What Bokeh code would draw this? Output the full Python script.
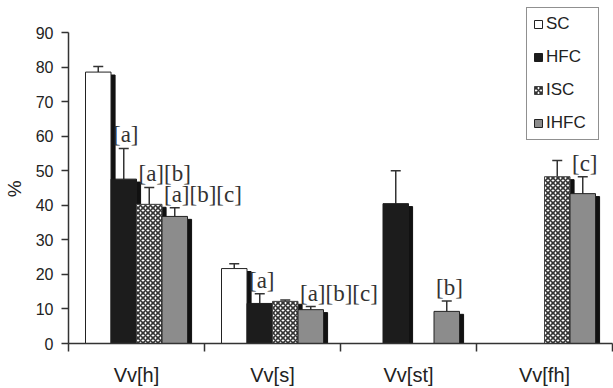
from bokeh.plotting import figure
from bokeh.models import (Range1d, FixedTicker, Whisker, TeeHead, ColumnDataSource,
                          Legend, LegendItem)
from bokeh.core.properties import value
from bokeh.embed import file_html
from bokeh.resources import INLINE

# ---- data -------------------------------------------------------------
categories = ["Vv[h]", "Vv[s]", "Vv[st]", "Vv[fh]"]
series = ["SC", "HFC", "ISC", "IHFC"]

sc_mean = [78.6, 21.7, 0, 0]
sc_err = [1.6, 1.4, 0, 0]
hfc_mean = [47.6, 11.6, 40.5, 0]
hfc_err = [8.9, 2.8, 9.5, 0]
isc_mean = [40.3, 12.2, 0, 48.3]
isc_err = [4.9, 0.4, 0, 4.7]
ihfc_mean = [36.8, 9.8, 9.3, 43.4]
ihfc_err = [2.5, 0.9, 3.0, 4.9]

sc_marks = ["", "", "", ""]
hfc_marks = ["[a]", "[a]", "", ""]
isc_marks = ["[a][b]", "", "", ""]
ihfc_marks = ["[a][b][c]", "[a][b][c]", "[b]", "[c]"]

y_ticks = [0, 10, 20, 30, 40, 50, 60, 70, 80, 90]

# ---- styling ----------------------------------------------------------
BAR_W = 0.1875          # bar width in category units
SHADOW_DX = 0.03        # drop shadow shift to the right (category units)
SHADOW_DY = 0.85        # drop shadow shift downward (% units)
Y_TOP = 98.75           # headroom above the 90 tick for the legend box
SANS = "'Liberation Sans', Arial, Helvetica, sans-serif"
SERIF = "'Liberation Serif', 'Times New Roman', Times, serif"
INK = "#222222"

styles = {
    "SC": dict(fill_color="white", line_color=INK),
    "HFC": dict(fill_color="#1c1c1c", line_color="#1c1c1c"),
    "ISC": dict(fill_color="white", line_color="#444444", hatch_pattern="diagonal_cross",
                hatch_color="#333333", hatch_scale=5, hatch_weight=1.6),
    "IHFC": dict(fill_color="#8c8c8c", line_color=INK),
}

means = [sc_mean, hfc_mean, isc_mean, ihfc_mean]
errs = [sc_err, hfc_err, isc_err, ihfc_err]
marks = [sc_marks, hfc_marks, isc_marks, ihfc_marks]

p = figure(width=613, height=388, output_backend="svg", toolbar_location=None,
           x_range=Range1d(0, 4), y_range=Range1d(y_ticks[0], Y_TOP),
           min_border_left=68, min_border_right=1, min_border_top=2, min_border_bottom=36)
p.outline_line_color = None
p.xgrid.visible = False
p.ygrid.visible = False
p.background_fill_color = "white"

sources = []
for k, name in enumerate(series):
    offset = (k - 1.5) * BAR_W
    rows = [i for i in range(len(categories)) if means[k][i] > 0]
    xs = [i + 0.5 + offset for i in rows]
    src = ColumnDataSource(dict(
        x=xs,
        left=[x - BAR_W / 2 for x in xs],
        sx=[x + SHADOW_DX for x in xs],
        top=[means[k][i] for i in rows],
        stop=[means[k][i] - SHADOW_DY for i in rows],
        upper=[means[k][i] + errs[k][i] for i in rows],
        mark=[marks[k][i] for i in rows],
    ))
    sources.append(src)

# drop shadows first so neighbouring bars sit on top of them
for src in sources:
    p.vbar(x="sx", top="stop", width=BAR_W, bottom=0, source=src,
           fill_color="#111111", line_color="#111111")

bar_renderers = []
for name, src in zip(series, sources):
    r = p.vbar(x="x", top="top", width=BAR_W, bottom=0, source=src,
               line_width=1, **styles[name])
    bar_renderers.append(r)

# error bars
for src in sources:
    w = Whisker(base="x", lower="top", upper="upper", source=src, dimension="height",
                line_color="#333333", line_width=1.5,
                upper_head=TeeHead(size=10, line_color="#333333", line_width=1.5),
                lower_head=None)
    p.add_layout(w)

# significance marks
for src in sources:
    p.text(x="left", y="upper", text="mark", source=src,
           text_font=value(SERIF), text_font_size="23px", text_color="#333333",
           text_align="left", text_baseline="bottom", x_offset=2, y_offset=-1)

# axes
xa = p.xaxis[0]
xa.ticker = FixedTicker(ticks=[i + 0.5 for i in range(len(categories))],
                        minor_ticks=list(range(len(categories) + 1)))
xa.major_label_overrides = {i + 0.5: c for i, c in enumerate(categories)}
xa.major_tick_out = 0
xa.major_tick_in = 0
xa.minor_tick_out = 8
xa.minor_tick_in = 0
xa.minor_tick_line_color = "#333333"
xa.minor_tick_line_width = 1.5
xa.axis_line_color = "#333333"
xa.axis_line_width = 1.5
xa.major_label_standoff = 12
xa.major_label_text_font = SANS
xa.major_label_text_font_size = "20px"
xa.major_label_text_color = INK

ya = p.yaxis[0]
ya.ticker = FixedTicker(ticks=y_ticks, minor_ticks=[])
ya.bounds = (y_ticks[0], y_ticks[-1])
ya.major_tick_out = 7
ya.major_tick_in = 0
ya.major_tick_line_color = "#333333"
ya.major_tick_line_width = 1.5
ya.axis_line_color = "#333333"
ya.axis_line_width = 1.5
ya.major_label_standoff = 8
ya.major_label_text_font = SANS
ya.major_label_text_font_size = "16px"
ya.major_label_text_color = INK
# trailing no-break spaces keep the symbol centred on the 0-90 span
ya.axis_label = "%" + "\u00a0" * 6
ya.axis_label_text_font = SANS
ya.axis_label_text_font_size = "19px"
ya.axis_label_text_font_style = "normal"
ya.axis_label_text_color = INK
ya.axis_label_standoff = 8

legend = Legend(items=[LegendItem(label=n, renderers=[r]) for n, r in zip(series, bar_renderers)],
                location=(458, 203), orientation="vertical",
                padding=6, spacing=13, margin=0,
                glyph_width=10, glyph_height=10, label_height=20, label_width=46,
                label_standoff=3,
                label_text_font=SANS, label_text_font_size="17px", label_text_color=INK,
                border_line_color="#222222", border_line_width=1.5,
                background_fill_color="white", background_fill_alpha=1.0)
p.add_layout(legend)

open("out.html", "w").write(file_html(p, INLINE))
